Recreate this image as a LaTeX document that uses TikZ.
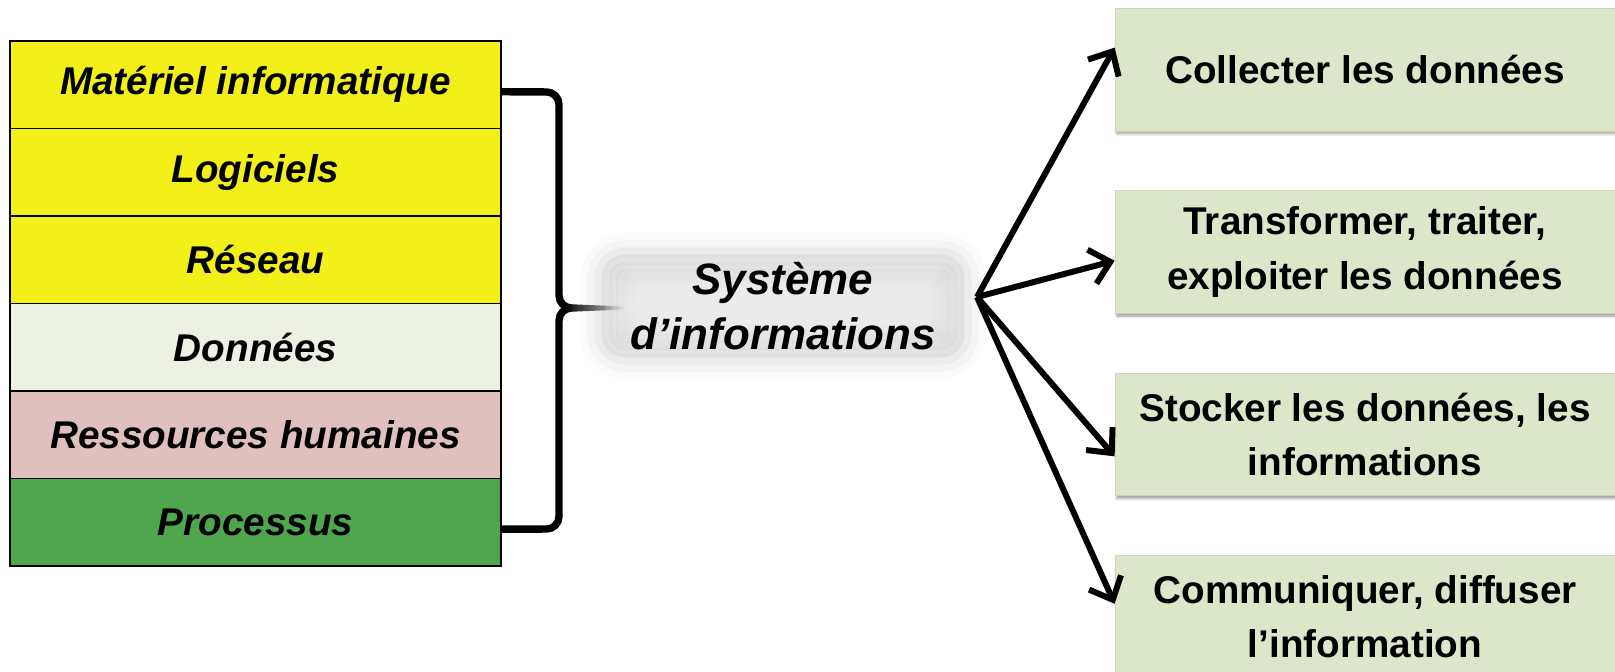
\documentclass[tikz,border=0pt]{standalone}
\usepackage{fontspec}
\setmainfont{Liberation Sans}
\usetikzlibrary{shapes,arrows.meta,positioning,calc,shadows.blur}
\definecolor{jaune}{RGB}{243,240,25}
\definecolor{donnees}{RGB}{237,241,228}
\definecolor{rose}{RGB}{224,192,190}
\definecolor{vertfonce}{RGB}{80,166,77}
\definecolor{vertpale}{RGB}{220,230,200}

\begin{document}
\begin{tikzpicture}[x=0.02cm, y=-0.02cm, >={Straight Barb[length=3.8mm,width=7mm]}]
        \tikzstyle{couche}=[draw=black, line width=0.8pt, minimum width=9.82cm, minimum height=1.75cm, inner sep=0pt, outer sep=0pt, node distance=1.75cm, font=\fontsize{22}{26}\selectfont\bfseries\itshape]
        \tikzstyle{tache}=[fill=vertpale, draw=vertpale!85!gray, line width=0.5pt, minimum width=10cm, minimum height=2.46cm, align=center, node distance=3.65cm, font=\fontsize{22}{31}\selectfont\bfseries, blur shadow={shadow xshift=1pt, shadow yshift=-1.5pt, shadow blur radius=1.5pt, shadow opacity=40}]
        \tikzstyle{lueur}=[align=center, font=\fontsize{25}{31}\selectfont\bfseries\itshape]
        \tikzstyle{accolade}=[line width=4.2pt, rounded corners=0.25cm]
        \tikzstyle{fleche}=[->, line width=3.4pt]

        \useasboundingbox (0,0) rectangle (1615,672);

        % composantes
        \node[couche, fill=jaune]     (mat)  at (255.5,84.75) {Matériel informatique};
        \node[couche, fill=jaune]     (log)  [below of=mat]   {Logiciels};
        \node[couche, fill=jaune]     (res)  [below of=log]   {Réseau};
        \node[couche, fill=donnees]   (don)  [below of=res]   {Données};
        \node[couche, fill=rose]      (rh)   [below of=don]   {Ressources humaines};
        \node[couche, fill=vertfonce] (proc) [below of=rh]    {Processus};

        % accolade
        \coordinate (haut) at ([yshift=-4pt]mat.east);
        \coordinate (bas)  at ([yshift=-4pt]proc.east);
        \coordinate (pointe) at (572,308);
        \draw[accolade] (haut) -- (559,92) -- (559,308) -- (pointe);
        \draw[accolade] (pointe) -- (559,308) -- (559,529) -- (bas);
        \shade[left color=black, right color=gray!20] (565,304) -- (624,306.5) -- (624,309.5) -- (565,312) -- cycle;

        % halo du systeme
        \coordinate (ctr) at (783,306);
        \path[rounded corners=0.4cm, blur shadow={shadow xshift=0pt, shadow yshift=0pt, shadow blur radius=0.5cm, shadow opacity=24}]
          ($(ctr)+(-178,-48)$) rectangle ($(ctr)+(178,48)$);
        \foreach \d in {0,2,...,30}
          \fill[white, opacity=0.08, rounded corners=0.4cm] ($(ctr)+(-178+\d,-48+\d)$) rectangle ($(ctr)+(178-\d,48-\d)$);
        \node[lueur] (si) at (ctr) {Système\\d’informations};
        \coordinate (hub) at (977,297);

        % fonctions
        \node[tache] (c1) at (1365,69.5) {Collecter les données};
        \node[tache] (c2) [below of=c1]   {Transformer, traiter,\\exploiter les données};
        \node[tache] (c3) [below of=c2]   {Stocker les données, les\\informations};
        \node[tache] (c4) [below of=c3]   {Communiquer, diffuser\\l’information};

        \path[fleche]
        (hub) edge (c1.175)
              edge (c2.182)
              edge (c3.185)
              edge (c4.177);
\end{tikzpicture}
\end{document}
